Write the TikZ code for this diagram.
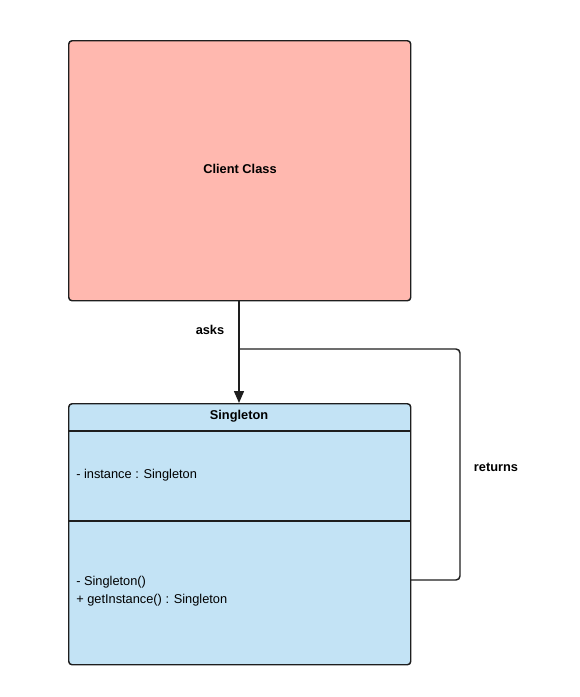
\documentclass[tikz,border=0pt]{standalone}
\usepackage{fontspec}
\setmainfont{Liberation Sans}
\usetikzlibrary{arrows.meta}
\definecolor{clientfill}{HTML}{FFB8AF}
\definecolor{singfill}{HTML}{C3E3F5}
\definecolor{edgecol}{HTML}{1E1E1E}
\begin{document}
\begin{tikzpicture}[x=0.75pt,y=-0.75pt,
  box/.style={draw=edgecol,line width=1.1pt,rounded corners=2.5pt},
  lbl/.style={font=\fontsize{9.6}{11.5}\selectfont\bfseries,inner sep=0pt},
  txt/.style={font=\fontsize{9.6}{13.5}\selectfont,inner sep=0pt,anchor=west,align=left},
  conn/.style={draw=edgecol,line width=1.1pt}]
\useasboundingbox (0,0) rectangle (580,697);
% Client class
\node[box,fill=clientfill,minimum width=342*0.75pt,minimum height=260*0.75pt,anchor=north west,inner sep=0pt] (client) at (68,40) {};
\node[lbl] (clientlbl) at (240,169) {Client Class};
% Singleton
\node[box,fill=singfill,minimum width=342*0.75pt,minimum height=261*0.75pt,anchor=north west,inner sep=0pt] (single) at (68,403) {};
\coordinate (h1l) at (68,431); \coordinate (h1r) at (410,431);
\coordinate (h2l) at (68,521); \coordinate (h2r) at (410,521);
\draw[conn] (h1l) -- (h1r);
\draw[conn] (h2l) -- (h2r);
\node[lbl] (singlbl) at (239,416) {Singleton};
\node[txt] (attr) at (76,475) {- instance : Singleton};
\node[txt,anchor=north west] (meth) at (76,576) {- Singleton()\\+ getInstance() : Singleton};
% asks arrow
\draw[conn,-{Triangle[length=9pt,width=7.5pt]}] (client.south -| 239,0) -- (single.north -| 239,0);
\node[lbl] (asks) at (210,330) {asks};
% returns
\coordinate (rstart) at (239,349);
\coordinate (rend) at (410,580);
\draw[conn,rounded corners=3pt] (rstart) -- (460,349) -- (460,580) -- (rend);
\node[lbl] (returns) at (496,467) {returns};
\end{tikzpicture}
\end{document}
